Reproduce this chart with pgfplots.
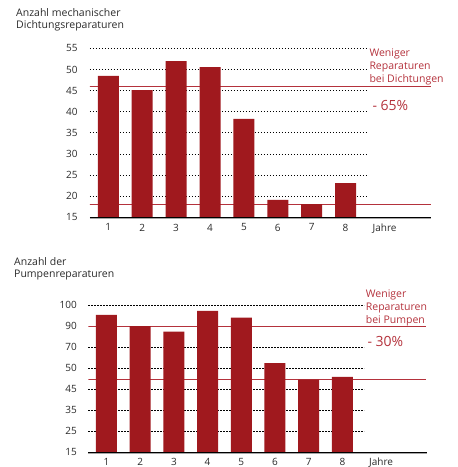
\documentclass[border=0pt]{standalone}
\usepackage{pgfplots}
\pgfplotsset{compat=1.18}
\usepackage{fontspec}
\setmainfont{Open Sans}
\definecolor{barred}{HTML}{A0191E}
\definecolor{linered}{HTML}{B4323C}
\definecolor{txt}{HTML}{2A2A2A}
\tikzset{grd/.style={black, line width=0.8pt, dash pattern=on 1.4pt off 1.6pt}}
\pgfplotsset{
  mystyle/.style={
    clip mode=individual,
    axis line style={draw=none},
    tick style={draw=none},
    major tick length=0pt,
    /pgf/number format/assume math mode=true,
    ticklabel style={font=\fontsize{10}{12}\selectfont, text=txt},
    xtick={1,2,3,4,5,6,7,8,9.15},
    xticklabels={1,2,3,4,5,6,7,8,Jahre},
    anchor=south west,
  }
}
\begin{document}
\begin{tikzpicture}
\path[use as bounding box] (0pt,0pt) rectangle (458pt,-467pt);
% ---------- top chart ----------
\begin{axis}[mystyle,
  at={(90pt,-217.3pt)},
  x=33.9pt, y=4.222pt,
  xmin=0.46, xmax=10.52, ymin=15, ymax=56,
  ytick={15,20,...,55},
  yticklabel style={xshift=-9pt},
  xticklabel style={yshift=-3pt},
]
\draw[grd] (axis cs:0.46,20) -- (axis cs:8.62,20);
\draw[grd] (axis cs:0.46,25) -- (axis cs:8.62,25);
\draw[grd] (axis cs:0.46,30) -- (axis cs:8.62,30);
\draw[grd] (axis cs:0.46,35) -- (axis cs:8.62,35);
\draw[grd] (axis cs:0.46,40) -- (axis cs:8.62,40);
\draw[grd] (axis cs:0.46,45) -- (axis cs:8.62,45);
\draw[grd] (axis cs:0.46,50) -- (axis cs:8.62,50);
\draw[grd] (axis cs:0.46,55) -- (axis cs:8.62,55);
\addplot[linered, line width=0.9pt, forget plot] coordinates {(0.43,45.9) (10.52,45.9)};
\addplot[linered, line width=0.9pt, forget plot] coordinates {(0.43,18.1) (10.52,18.1)};
\addplot[ybar, bar width=21pt, fill=barred, draw=none, bar shift=0pt] coordinates {
(1,48.5) (2,45.1) (3,52.0) (4,50.6) (5,38.3) (6,19.1) (7,18.15) (8,23.1)};
\draw[black!35, line width=1.6pt, yshift=-0.6pt] (axis cs:0.46,15) -- (axis cs:10.52,15);
\draw[black, line width=1.1pt] (axis cs:0.46,15) -- (axis cs:10.52,15);
\end{axis}
% ---------- bottom chart ----------
\begin{axis}[mystyle,
  at={(88.3pt,-452.3pt)},
  x=33.7pt, y=21.04pt,
  xmin=0.46, xmax=10.5, ymin=0, ymax=7.3,
  ytick={0,1,2,3,4,5,6,7},
  yticklabels={15,25,35,45,50,70,90,100},
  yticklabel style={xshift=-8pt},
  xticklabel style={yshift=-2.5pt},
]
\draw[grd] (axis cs:0.46,1) -- (axis cs:8.65,1);
\draw[grd] (axis cs:0.46,2) -- (axis cs:8.65,2);
\draw[grd] (axis cs:0.46,3) -- (axis cs:8.65,3);
\draw[grd] (axis cs:0.46,4) -- (axis cs:8.65,4);
\draw[grd] (axis cs:0.46,5) -- (axis cs:8.65,5);
\draw[grd] (axis cs:0.46,7) -- (axis cs:8.65,7);
\addplot[linered, line width=0.9pt, forget plot] coordinates {(0.41,6.0) (10.48,6.0)};
\addplot[linered, line width=0.9pt, forget plot] coordinates {(0.41,3.44) (10.48,3.44)};
\addplot[ybar, bar width=21pt, fill=barred, draw=none, bar shift=0pt] coordinates {
(1,6.53) (2,6.0) (3,5.73) (4,6.72) (5,6.40) (6,4.24) (7,3.45) (8,3.58)};
\draw[black!35, line width=1.6pt, yshift=-0.6pt] (axis cs:0.46,0) -- (axis cs:10.5,0);
\draw[black, line width=1.1pt] (axis cs:0.46,0) -- (axis cs:10.5,0);
\end{axis}
% ---------- texts ----------
\begin{scope}[every node/.style={inner sep=0pt, anchor=base west}]
\node[text=txt, font=\fontsize{10.5}{12}\selectfont] at (16pt,-16pt) {Anzahl mechanischer};
\node[text=txt, font=\fontsize{10.5}{12}\selectfont] at (16pt,-28.6pt) {Dichtungsreparaturen};
\node[text=txt, font=\fontsize{10.5}{12}\selectfont] at (14pt,-265pt) {Anzahl der};
\node[text=txt, font=\fontsize{10.5}{12}\selectfont] at (14pt,-277.6pt) {Pumpenreparaturen};
\node[text=linered, font=\fontsize{10.5}{12}\selectfont] at (369.3pt,-56.7pt) {Weniger};
\node[text=linered, font=\fontsize{10.5}{12}\selectfont] at (369.3pt,-69.6pt) {Reparaturen};
\node[text=linered, font=\fontsize{10.5}{12}\selectfont] at (369.3pt,-82.6pt) {bei Dichtungen};
\node[text=linered, font=\fontsize{14}{16}\selectfont] at (372.3pt,-110pt) {- 65\%};
\node[text=linered, font=\fontsize{10.5}{12}\selectfont] at (365.7pt,-297.3pt) {Weniger};
\node[text=linered, font=\fontsize{10.5}{12}\selectfont] at (365.7pt,-310.6pt) {Reparaturen};
\node[text=linered, font=\fontsize{10.5}{12}\selectfont] at (365.7pt,-323.8pt) {bei Pumpen};
\node[text=linered, font=\fontsize{14}{16}\selectfont] at (367.3pt,-346.7pt) {- 30\%};
\end{scope}
\end{tikzpicture}
\end{document}
